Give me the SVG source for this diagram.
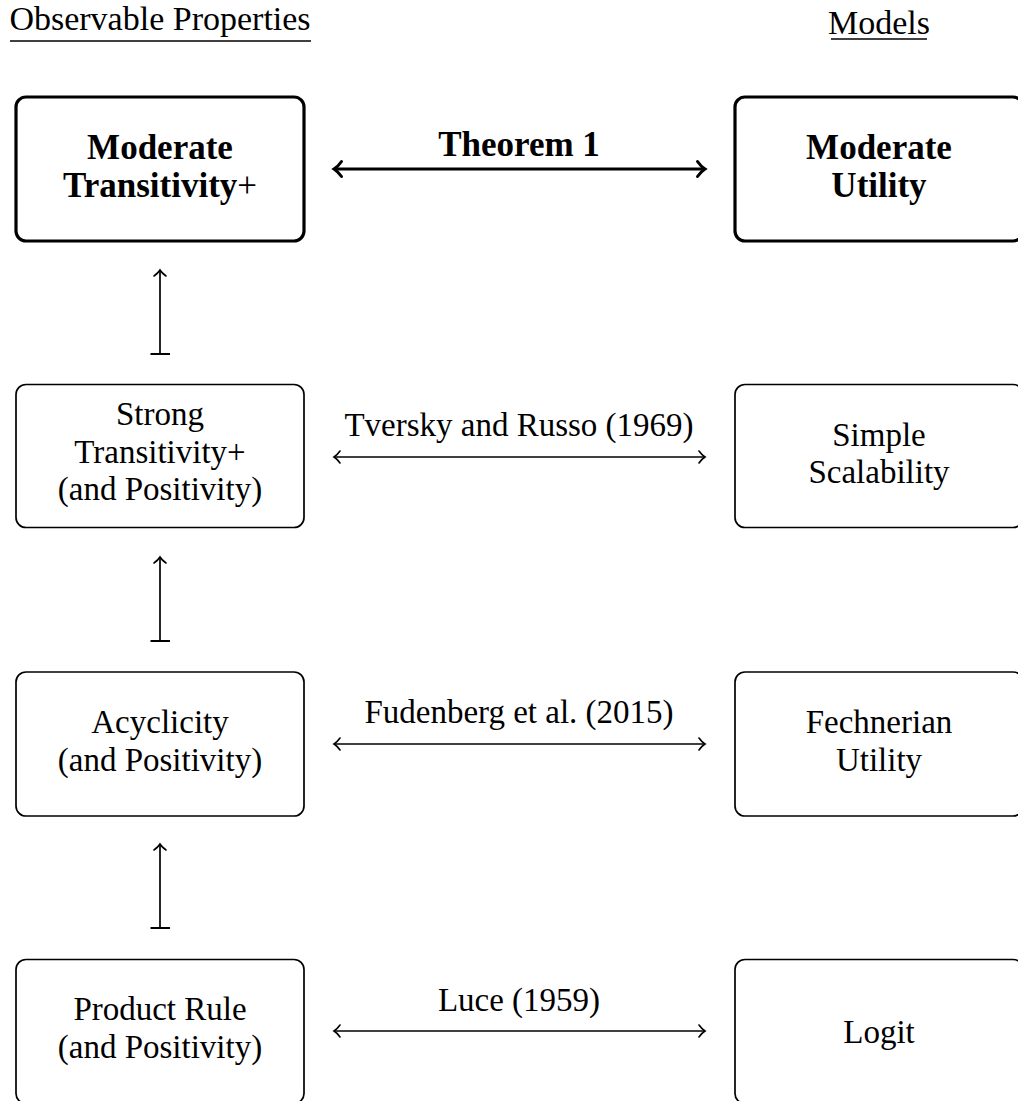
<svg xmlns="http://www.w3.org/2000/svg" width="1018" height="1101" viewBox="0 0 1018 1101">
<style>
text{font-family:"Liberation Serif","Times New Roman",serif;fill:#000;text-anchor:middle}
.t{font-size:33px}
.b{font-size:35px;font-weight:bold}
.h{font-size:34px}
.box{fill:#fff;stroke:#000;stroke-width:1.7}
.boxb{fill:#fff;stroke:#000;stroke-width:3.2}
.ln{stroke:#000;stroke-width:1.7;fill:none}
.lnb{stroke:#000;stroke-width:3.2;fill:none}
</style>
<defs>
<marker id="ah" markerUnits="userSpaceOnUse" markerWidth="20" markerHeight="20" viewBox="-10 -10 20 20" refX="0" refY="0" orient="auto-start-reverse">
<path d="M-6,-6 C-3.5,-2.5 -1,-0.6 0,0 C-1,0.6 -3.5,2.5 -6,6" fill="none" stroke="#000" stroke-width="1.6" stroke-linecap="round"/>
</marker>
<marker id="ahb" markerUnits="userSpaceOnUse" markerWidth="24" markerHeight="24" viewBox="-12 -12 24 24" refX="0" refY="0" orient="auto-start-reverse">
<path d="M-7.5,-7.5 C-4.5,-3 -1.2,-0.8 0,0 C-1.2,0.8 -4.5,3 -7.5,7.5" fill="none" stroke="#000" stroke-width="3" stroke-linecap="round"/>
</marker>
</defs>

<g id="headers">
<text class="h" x="160" y="30">Observable Properties</text>
<line x1="10" y1="41" x2="311" y2="41" stroke="#000" stroke-width="1.3"/>
<text class="h" x="879" y="34">Models</text>
<line x1="831" y1="39" x2="927" y2="39" stroke="#000" stroke-width="1.3"/>
</g>

<g id="n-moderate-transitivity">
<rect class="boxb" x="16" y="97" width="288" height="144" rx="10"/>
<text class="b" x="160" y="159">Moderate</text>
<text class="b" x="160" y="197">Transitivity<tspan font-weight="normal">+</tspan></text>
</g>
<g id="n-moderate-utility">
<rect class="boxb" x="735" y="97" width="288" height="144" rx="10"/>
<text class="b" x="879" y="159">Moderate</text>
<text class="b" x="879" y="197">Utility</text>
</g>

<g id="n-strong-transitivity">
<rect class="box" x="16" y="384.5" width="288" height="143" rx="10"/>
<text class="t" x="160" y="425">Strong</text>
<text class="t" x="160" y="463">Transitivity+</text>
<text class="t" x="160" y="500">(and Positivity)</text>
</g>
<g id="n-simple-scalability">
<rect class="box" x="735" y="384.5" width="288" height="143" rx="10"/>
<text class="t" x="879" y="446">Simple</text>
<text class="t" x="879" y="483">Scalability</text>
</g>

<g id="n-acyclicity">
<rect class="box" x="16" y="672" width="288" height="144" rx="10"/>
<text class="t" x="160" y="733">Acyclicity</text>
<text class="t" x="160" y="771">(and Positivity)</text>
</g>
<g id="n-fechnerian">
<rect class="box" x="735" y="672" width="288" height="144" rx="10"/>
<text class="t" x="879" y="733">Fechnerian</text>
<text class="t" x="879" y="771">Utility</text>
</g>

<g id="n-product-rule">
<rect class="box" x="16" y="959.5" width="288" height="144" rx="10"/>
<text class="t" x="160" y="1020">Product Rule</text>
<text class="t" x="160" y="1058">(and Positivity)</text>
</g>
<g id="n-logit">
<rect class="box" x="735" y="959.5" width="288" height="144" rx="10"/>
<text class="t" x="879" y="1043">Logit</text>
</g>

<g id="connectors">
<line class="lnb" x1="334" y1="169" x2="705" y2="169" marker-start="url(#ahb)" marker-end="url(#ahb)"/>
<text class="b" x="519" y="156">Theorem 1</text>
<line class="ln" x1="334" y1="457" x2="705" y2="457" marker-start="url(#ah)" marker-end="url(#ah)"/>
<text class="t" x="519" y="436">Tversky and Russo (1969)</text>
<line class="ln" x1="334" y1="744" x2="705" y2="744" marker-start="url(#ah)" marker-end="url(#ah)"/>
<text class="t" x="519" y="723">Fudenberg et al. (2015)</text>
<line class="ln" x1="334" y1="1031" x2="705" y2="1031" marker-start="url(#ah)" marker-end="url(#ah)"/>
<text class="t" x="519" y="1011">Luce (1959)</text>

<line class="ln" x1="160" y1="354" x2="160" y2="270" marker-end="url(#ah)"/>
<line x1="150.5" y1="354" x2="170" y2="354" stroke="#000" stroke-width="2"/>
<line class="ln" x1="160" y1="641" x2="160" y2="557" marker-end="url(#ah)"/>
<line x1="150.5" y1="641" x2="170" y2="641" stroke="#000" stroke-width="2"/>
<line class="ln" x1="160" y1="928" x2="160" y2="844" marker-end="url(#ah)"/>
<line x1="150.5" y1="928" x2="170" y2="928" stroke="#000" stroke-width="2"/>
</g>
</svg>
